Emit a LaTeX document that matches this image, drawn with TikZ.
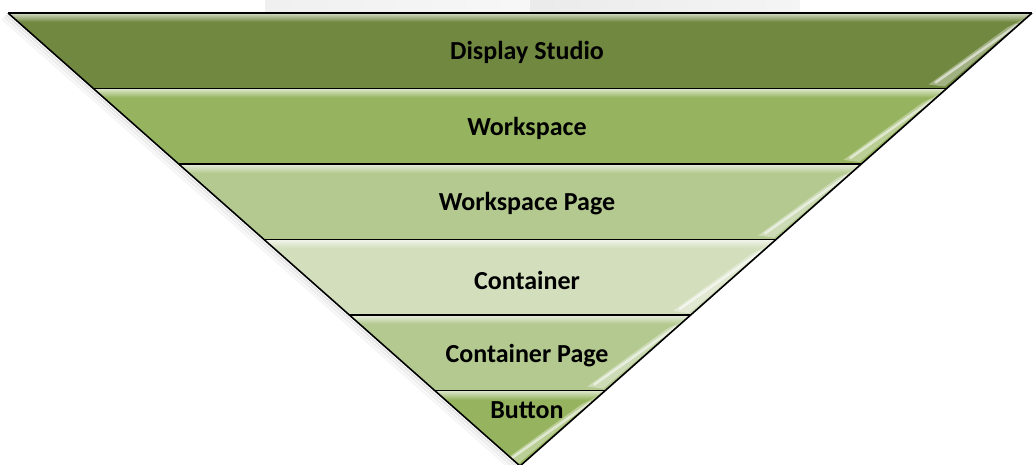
\documentclass[tikz,border=0pt]{standalone}
\usepackage{fontspec}
\setmainfont{Carlito}
\usetikzlibrary{calc}
\definecolor{bandA}{HTML}{718840}
\definecolor{bandB}{HTML}{96B45F}
\definecolor{bandC}{HTML}{B3C98F}
\definecolor{bandD}{HTML}{D2DEBC}
\definecolor{bandE}{HTML}{B3C98F}
\definecolor{bandF}{HTML}{96B45F}
\tikzset{
  edge/.style={draw=black, line width=1.6pt, line join=round},
  label/.style={font=\bfseries\fontsize{26}{30}\selectfont, text=black, inner sep=0pt},
  curl/.style={fill=white, fill opacity=0.35},
  curlhi/.style={draw=white, draw opacity=0.55, line width=2.5pt, line cap=round},
}
\begin{document}
\begin{tikzpicture}[x=1pt,y=-1pt]
\useasboundingbox (0,0) rectangle (1036,465);
% faint grey bar behind the top
\shade[left color=black!6, right color=black!3] (265,0) rectangle (530,12);
\shade[left color=black!8, right color=black!4] (530,0) rectangle (800,12);
% soft shadow along the left edge
\foreach \o/\a in {2/0.10,4/0.07,6/0.04}{
  \draw[black, opacity=\a, line width=2pt] (8-\o,13+\o) -- (520-\o,466+\o);
}
% bands
\foreach \i/\c in {0/bandA,1/bandB,2/bandC,3/bandD,4/bandE,5/bandF}{
  \pgfmathsetmacro{\yt}{13+75.5*\i}
  \pgfmathsetmacro{\yb}{13+75.5*(\i+1)}
  \pgfmathsetmacro{\xlt}{8+85.333*\i}
  \pgfmathsetmacro{\xrt}{1032-85.333*\i}
  \pgfmathsetmacro{\xlb}{8+85.333*(\i+1)}
  \pgfmathsetmacro{\xrb}{1032-85.333*(\i+1)}
  \fill[\c] (\xlt,\yt) -- (\xrt,\yt) -- (\xrb,\yb) -- (\xlb,\yb) -- cycle;
  \begin{scope}
    \clip (\xlt,\yt) -- (\xrt,\yt) -- (\xrb,\yb) -- (\xlb,\yb) -- cycle;
    % top highlight
    \shade[top color=white!70!\c, bottom color=\c] (\xlt,\yt) rectangle (\xrt,\yt+9);
    % page-curl strip on the right
    \fill[curl] (\xrb-2,\yb-2) -- (\xrt-8,\yt+6) -- (\xrt-24,\yt+14) -- (\xrb-18,\yb-4) -- cycle;
    \draw[curlhi] (\xrb-11,\yb-6) -- (\xrt-15,\yt+12);
  \end{scope}
  \draw[edge] (\xlt,\yt) -- (\xrt,\yt);
}
% outline
\draw[edge] (8,13) -- (520,466) -- (1032,13);
% labels
\node[label] (l1) at (527,52) {Display Studio};
\node[label] (l2) at (527,128) {Workspace};
\node[label] (l3) at (527,204) {Workspace Page};
\node[label] (l4) at (527,280) {Container};
\node[label] (l5) at (527,356) {Container Page};
\node[label] (l6) at (527,410) {Button};
\end{tikzpicture}
\end{document}
